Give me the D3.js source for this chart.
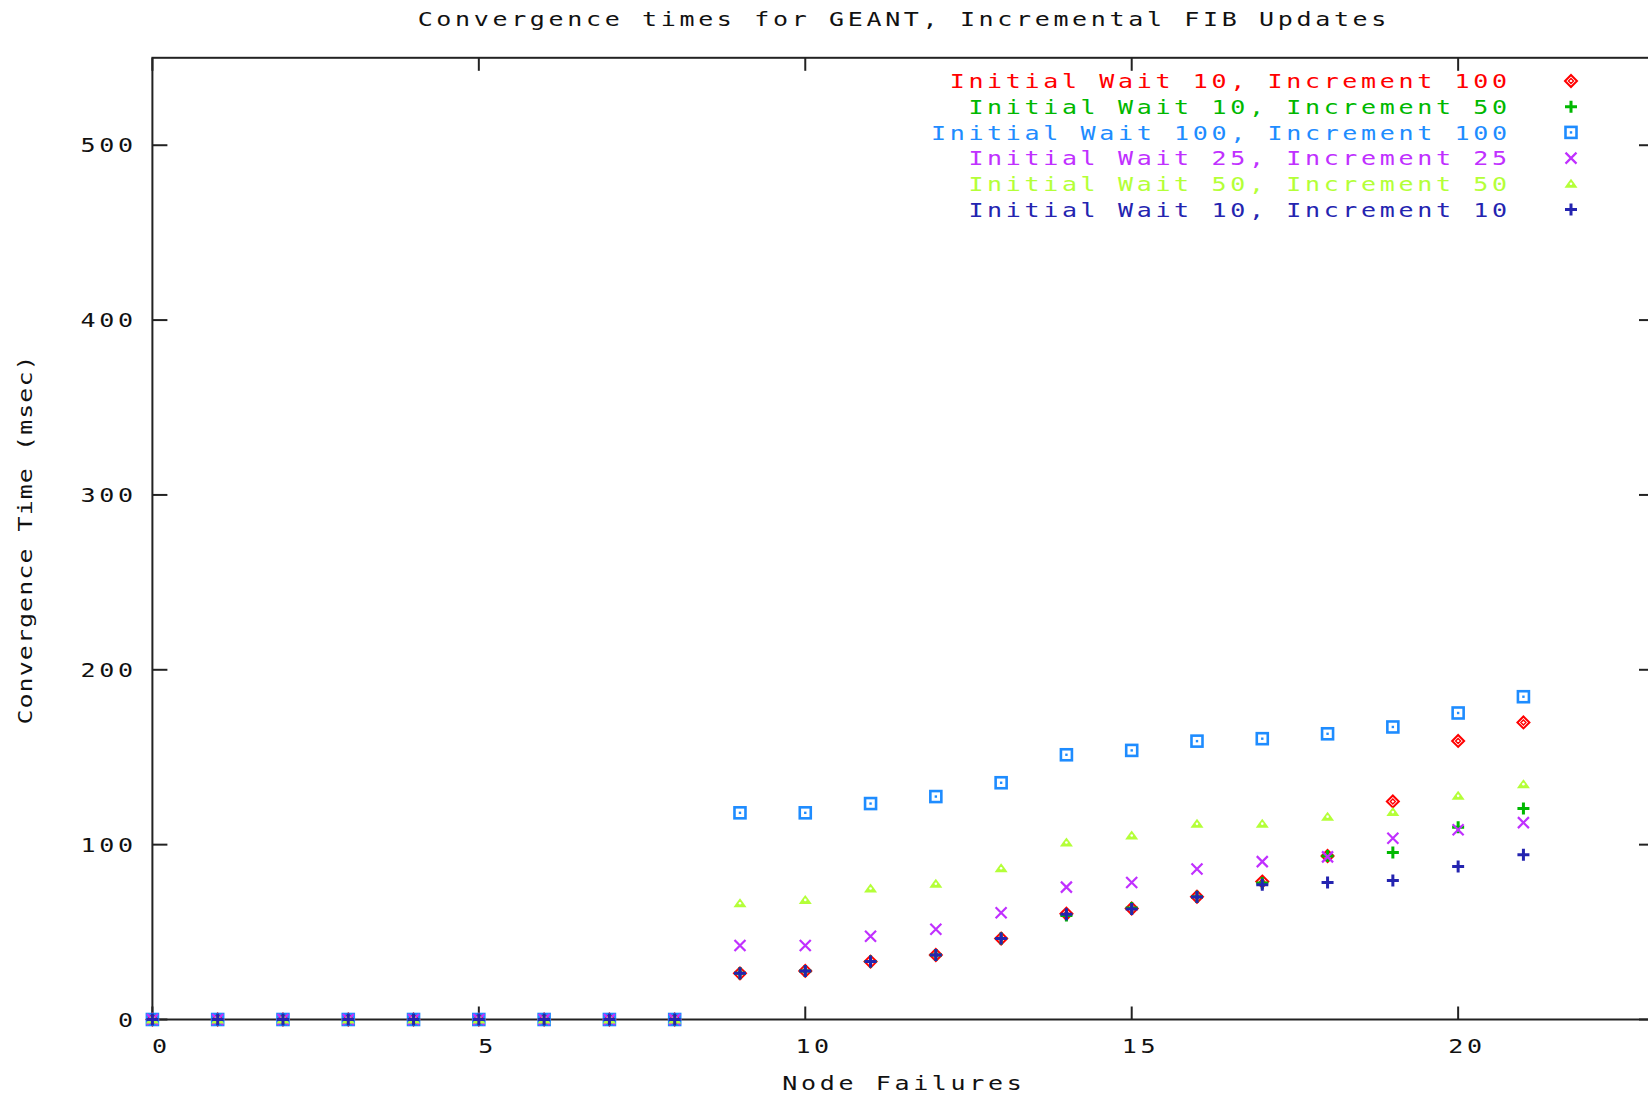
<!DOCTYPE html>
<html>
<head>
<meta charset="utf-8">
<script src="https://cdn.jsdelivr.net/npm/d3@7"></script>
<style>
  body { margin: 0; background: #fff; }
  text { font-family: "DejaVu Sans Mono", "Liberation Mono", monospace; font-size: 20px; }
</style>
</head>
<body>
<div id="chart"></div>
<script>
// node failures on the x axis
const failures = [0, 1, 2, 3, 4, 5, 6, 7, 8, 9, 10, 11, 12, 13, 14, 15, 16, 17, 18, 19, 20, 21];

const seriesNames = [
    "Initial Wait 10, Increment 100",
    "Initial Wait 10, Increment 50",
    "Initial Wait 100, Increment 100",
    "Initial Wait 25, Increment 25",
    "Initial Wait 50, Increment 50",
    "Initial Wait 10, Increment 10"
];

// convergence time (msec) per series
const wait10inc100 = [0, 0, 0, 0, 0, 0, 0, 0, 0, 26.4, 27.8, 33.1, 36.9, 46.3, 60.5, 63.5, 70.2, 78.9, 93.5, 124.7, 159.3, 169.9];
const wait10inc50 = [0, 0, 0, 0, 0, 0, 0, 0, 0, 26.4, 27.8, 33.1, 36.9, 46.3, 59.5, 63.8, 70.2, 78.0, 93.5, 95.5, 110.0, 120.7];
const wait100inc100 = [0, 0, 0, 0, 0, 0, 0, 0, 0, 118.2, 118.2, 123.5, 127.5, 135.4, 151.4, 153.9, 159.2, 160.6, 163.4, 167.3, 175.3, 184.6];
const wait25inc25 = [0, 0, 0, 0, 0, 0, 0, 0, 0, 42.3, 42.3, 47.6, 51.6, 61.0, 75.7, 78.3, 86.1, 90.3, 93.0, 103.7, 108.5, 112.6];
const wait50inc50 = [0, 0, 0, 0, 0, 0, 0, 0, 0, 66.5, 68.4, 74.9, 77.6, 86.5, 101.2, 105.2, 111.9, 112.0, 116.0, 118.6, 127.9, 134.6];
const wait10inc10 = [0, 0, 0, 0, 0, 0, 0, 0, 0, 26.4, 27.8, 33.1, 36.9, 46.3, 60.2, 63.2, 70.1, 77.0, 78.3, 79.5, 87.5, 94.2];

const xTicks = [0, 5, 10, 15, 20];
const yTicks = [0, 100, 200, 300, 400, 500];

const width = 1648, height = 1095;
const margin = {left: 152.4, top: 57.8, bottom: 1019.5, right: 1654};
const colors = ['#ff0000', '#00b800', '#1e8cff', '#c030ff', '#b4ff38', '#2424b0'];
const shapes = ['diamond', 'plus', 'square', 'cross', 'triangle', 'plus'];
const allSeries = [wait10inc100, wait10inc50, wait100inc100, wait25inc25, wait50inc50, wait10inc10];
const stretch = 1.25;   // bitmap font glyphs are wider than they are tall

const x = d3.scaleLinear().domain([0, 23]).range([margin.left, margin.right]);
const y = d3.scaleLinear().domain([0, 550]).range([margin.bottom, margin.top]);

const svg = d3.select("#chart").append("svg")
    .attr("width", width)
    .attr("height", height)
    .attr("viewBox", [0, 0, width, height]);

// put a label at (px,py), glyphs stretched and spread to the wide pitch
function label(parent, str, px, py, anchor, adv, color, rot) {
    const t = parent.append("text")
        .attr("transform", `translate(${px},${py})` + (rot ? ` rotate(${rot})` : "") + ` scale(${stretch},1)`)
        .attr("dy", "0.36em")
        .attr("text-anchor", anchor)
        .attr("fill", color || "#111")
        .text(str);
    const n = String(str).length;
    t.attr("lengthAdjust", "spacing")
        .attr("textLength", ((n - 1) * adv + 15) / stretch);
    return t;
}

// frame
svg.append("rect")
    .attr("x", margin.left).attr("y", margin.top)
    .attr("width", margin.right - margin.left)
    .attr("height", margin.bottom - margin.top)
    .attr("fill", "none").attr("stroke", "#222").attr("stroke-width", 2);

// ticks, mirrored on the top and right
const tk = svg.append("g").attr("stroke", "#222").attr("stroke-width", 2);
yTicks.forEach(v => {
    tk.append("line").attr("x1", margin.left).attr("x2", margin.left + 15).attr("y1", y(v)).attr("y2", y(v));
    tk.append("line").attr("x1", margin.right).attr("x2", margin.right - 15).attr("y1", y(v)).attr("y2", y(v));
});
xTicks.forEach(v => {
    tk.append("line").attr("x1", x(v)).attr("x2", x(v)).attr("y1", margin.bottom).attr("y2", margin.bottom - 13);
    tk.append("line").attr("x1", x(v)).attr("x2", x(v)).attr("y1", margin.top).attr("y2", margin.top + 13);
});

const labels = svg.append("g");
yTicks.forEach(v => label(labels, v, 133, y(v), "end", 18.7));
xTicks.forEach(v => label(labels, v, x(v) + 7, 1046, "middle", 18.7));

// titles
label(labels, "Convergence times for GEANT, Incremental FIB Updates", 902, 19, "middle", 18.7);
label(labels, "Node Failures", 902, 1083, "middle", 18.7);
label(labels, "Convergence Time (msec)", 25, 540, "middle", 16.1, "#111", -90);

function drawMarker(g, shape, color) {
    if (shape === 'plus') {
        g.append("path").attr("d", "M-6,0H6M0,-6V6")
            .attr("stroke", color).attr("stroke-width", 3).attr("fill", "none");
    } else if (shape === 'cross') {
        g.append("path").attr("d", "M-5.5,-5.5L5.5,5.5M-5.5,5.5L5.5,-5.5")
            .attr("stroke", color).attr("stroke-width", 2.2).attr("fill", "none");
    } else if (shape === 'square') {
        g.append("rect").attr("x", -5.5).attr("y", -5.5).attr("width", 11).attr("height", 11)
            .attr("stroke", color).attr("stroke-width", 2.6).attr("fill", "none");
        g.append("rect").attr("x", -1.2).attr("y", -1.2).attr("width", 2.4).attr("height", 2.4)
            .attr("fill", color);
    } else if (shape === 'diamond') {
        g.append("path").attr("d", "M0,-6L6,0L0,6L-6,0Z")
            .attr("stroke", color).attr("stroke-width", 2).attr("fill", "none");
        g.append("path").attr("d", "M0,-2.5L2.5,0L0,2.5L-2.5,0Z")
            .attr("stroke", color).attr("stroke-width", 1.4).attr("fill", "none");
    } else if (shape === 'triangle') {
        g.append("path").attr("d", "M-6.5,4L6.5,4L3,-1L0,-5L-3,-1Z")
            .attr("fill", color);
        g.append("circle").attr("cx", 0).attr("cy", 0).attr("r", 1.3).attr("fill", "#fff");
    }
}

// data points, later series on top
allSeries.forEach((vals, si) => {
    const g = svg.append("g");
    g.selectAll("g")
        .data(vals.map((v, i) => ({f: failures[i], v: v})))
        .join("g")
        .attr("transform", d => `translate(${x(d.f)},${y(d.v)})`)
        .each(function () { drawMarker(d3.select(this), shapes[si], colors[si]); });
});

// legend
const legend = svg.append("g");
seriesNames.forEach((name, i) => {
    const ly = 81 + i * 25.7;
    label(legend, name, 1507, ly, "end", 18.7, colors[i]);
    drawMarker(legend.append("g").attr("transform", `translate(1571,${ly})`), shapes[i], colors[i]);
});
</script>
</body>
</html>
